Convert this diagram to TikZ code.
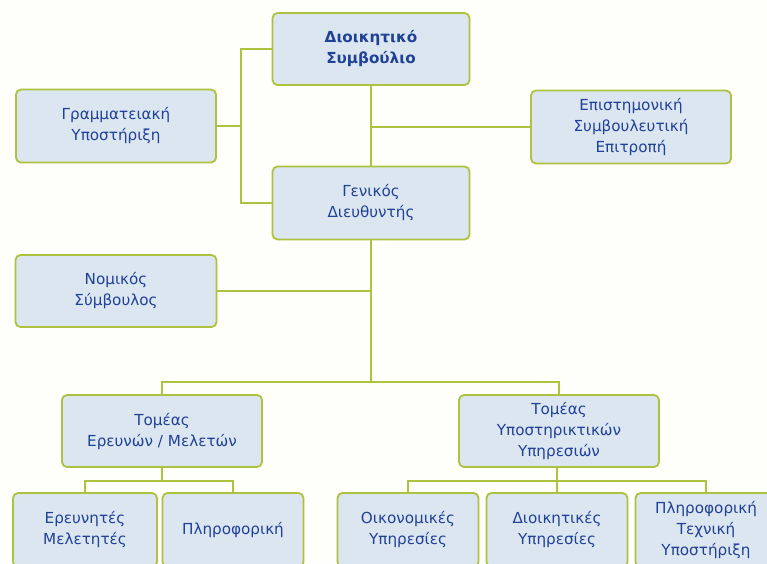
\documentclass[tikz,border=0pt]{standalone}
\usepackage{fontspec}
\setmainfont{DejaVu Sans}
\definecolor{boxfill}{HTML}{DCE6F1}
\definecolor{boxline}{HTML}{ADC23F}
\definecolor{txt}{HTML}{1F4196}
\definecolor{bg}{HTML}{FEFEFB}
\begin{document}
\begin{tikzpicture}[x=1pt,y=-1pt,
  orgbox/.style={draw=boxline, line width=1.8pt, fill=boxfill, rounded corners=5pt,
    text=txt, align=center, inner sep=2pt,
    font=\fontsize{15.2}{21}\selectfont},
  link/.style={draw=boxline, line width=1.8pt}]
\useasboundingbox (0,0) rectangle (767,563);
\clip (0,0) rectangle (767,563);
\fill[bg] (0,0) rectangle (767,563);

\node[orgbox, minimum width=197pt, minimum height=72pt, font=\fontsize{15.2}{21}\selectfont\bfseries] (ds) at (371,49) {Διοικητικό\\Συμβούλιο};
\node[orgbox, minimum width=200pt, minimum height=73pt] (gram) at (116,126) {Γραμματειακή\\Υποστήριξη};
\node[orgbox, minimum width=200pt, minimum height=73pt] (epi) at (631,127) {Επιστημονική\\Συμβουλευτική\\Επιτροπή};
\node[orgbox, minimum width=197pt, minimum height=73pt] (gen) at (371,203) {Γενικός\\Διευθυντής};
\node[orgbox, minimum width=201pt, minimum height=72pt] (nom) at (116,291) {Νομικός\\Σύμβουλος};
\node[orgbox, minimum width=200pt, minimum height=72pt] (te) at (162,431) {Τομέας\\Ερευνών / Μελετών};
\node[orgbox, minimum width=200pt, minimum height=72pt] (ty) at (559,431) {Τομέας\\Υποστηρικτικών\\Υπηρεσιών};

\node[orgbox, minimum width=144pt, minimum height=74pt] (ere) at (85,530) {Ερευνητές\\Μελετητές};
\node[orgbox, minimum width=141pt, minimum height=74pt] (pli) at (233,530) {Πληροφορική};
\node[orgbox, minimum width=141pt, minimum height=74pt] (oik) at (408,530) {Οικονομικές\\Υπηρεσίες};
\node[orgbox, minimum width=141pt, minimum height=74pt] (dio) at (557,530) {Διοικητικές\\Υπηρεσίες};
\node[orgbox, minimum width=141pt, minimum height=74pt] (ptx) at (706,530) {Πληροφορική\\Τεχνική\\Υποστήριξη};

\coordinate (trunk) at (241,126);
\coordinate (split) at (371,382);
\coordinate (teb) at (162,481);
\coordinate (tyb) at (557,481);

% left trunk
\draw[link] (ds.west) -| (trunk) |- (gen.west);
\draw[link] (gram.east) -- (trunk);
% DS to GD and scientific committee
\draw[link] (ds.south) -- (gen.north);
\draw[link] (epi.west) -- (epi.west -| ds.south);
% GD to sectors
\draw[link] (gen.south) -- (split);
\draw[link] (nom.east) -- (nom.east -| gen.south);
\draw[link] (te.north) |- (split) -| (ty.north);
% sector 1 children
\draw[link] (te.south) -- (teb);
\draw[link] (ere.north) |- (teb) -| (pli.north);
% sector 2 children
\draw[link] (tyb |- ty.south) -- (tyb);
\draw[link] (oik.north) |- (tyb) -| (ptx.north);
\draw[link] (tyb) -- (dio.north);
\end{tikzpicture}
\end{document}
